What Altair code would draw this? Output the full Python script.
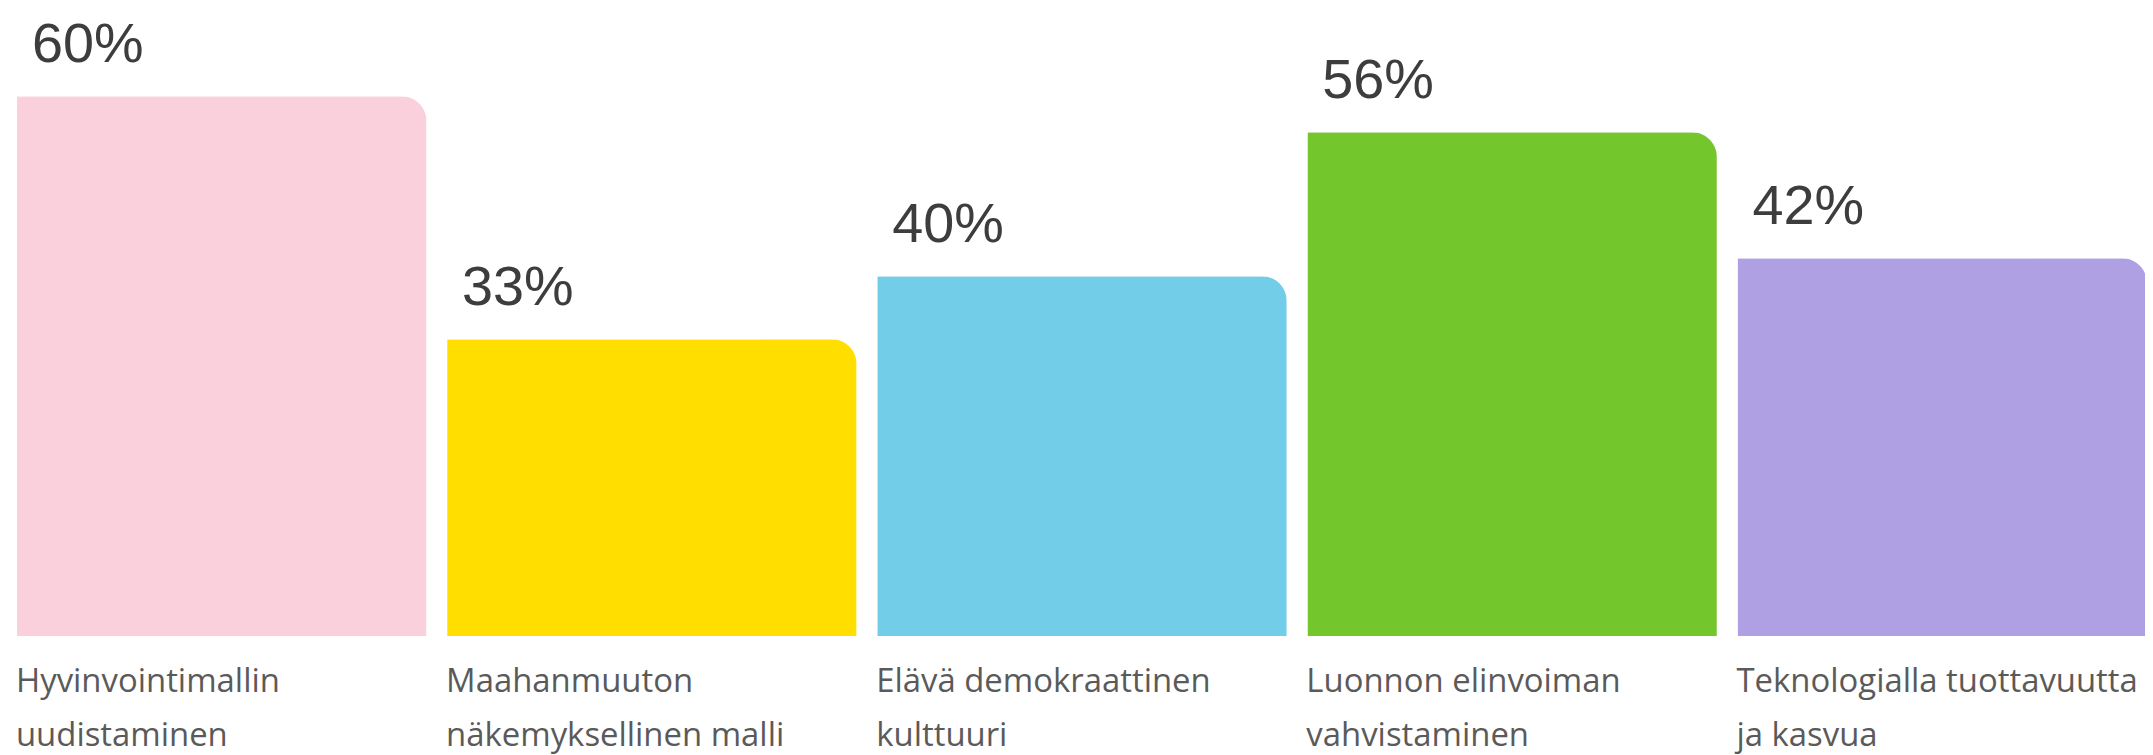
import altair as alt
import pandas as pd

categories = [
    "Hyvinvointimallin\nuudistaminen",
    "Maahanmuuton\nnäkemyksellinen malli",
    "Elävä demokraattinen\nkulttuuri",
    "Luonnon elinvoiman\nvahvistaminen",
    "Teknologialla tuottavuutta\nja kasvua",
]
values = [60, 33, 40, 56, 42]
labels = ["60%", "33%", "40%", "56%", "42%"]
colors = ["#F9D0DB", "#FFDE00", "#72CDE8", "#73C72D", "#AF9FE3"]

df = pd.DataFrame({"cat": categories, "value": values, "label": labels, "color": colors})

xscale = alt.Scale(range=[9, 2147], paddingInner=0.048, paddingOuter=0)
yscale = alt.Scale(domain=[0, 69.66])

bars = alt.Chart(df).mark_bar(cornerRadiusTopRight=25).encode(
    x=alt.X("cat:N", sort=None, axis=None, scale=xscale),
    y=alt.Y("value:Q", axis=None, scale=yscale),
    color=alt.Color("color:N", scale=None, legend=None),
)

pct = alt.Chart(df).mark_text(
    align="left", baseline="alphabetic", dx=15, dy=-34,
    font="Liberation Sans", fontSize=56, color="#3d3d3d",
).encode(
    x=alt.X("cat:N", sort=None, axis=None, scale=xscale, bandPosition=0),
    y=alt.Y("value:Q", axis=None, scale=yscale),
    text="label:N",
)

cats = alt.Chart(df).mark_text(
    align="left", baseline="alphabetic", dx=-1, lineBreak="\n", lineHeight=54,
    font="Open Sans", fontSize=33, color="#5a5a5a",
).encode(
    x=alt.X("cat:N", sort=None, axis=None, scale=xscale, bandPosition=0),
    y=alt.value(685),
    text="cat:N",
)

chart = alt.layer(bars, pct, cats).properties(
    width=2145,
    height=629,
    padding={"left": 0, "top": 0, "right": 0, "bottom": 130},
    autosize=alt.AutoSizeParams(type="none"),
    background="white",
).configure_view(stroke=None)

chart.save("out.html", embed_options={"renderer": "svg", "actions": False})
